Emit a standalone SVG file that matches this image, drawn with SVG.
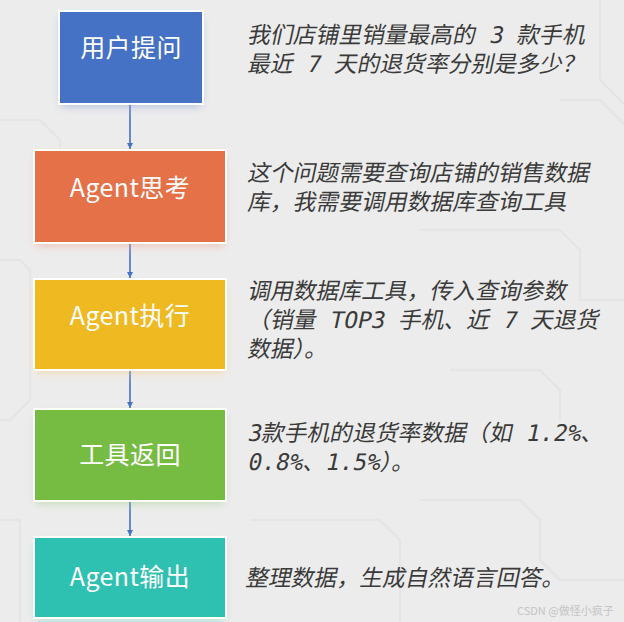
<svg xmlns="http://www.w3.org/2000/svg" width="624" height="622" viewBox="0 0 624 622">
<style>
.bg{fill:#ececec}
.circ{fill:none;stroke:#e5e5e5;stroke-width:2.5}
.box{stroke:#ffffff;stroke-width:2}
.lbl{font-family:"Noto Sans CJK SC","Noto Sans",sans-serif;font-size:25px;fill:#ffffff;text-anchor:middle;letter-spacing:0.4px}
.desc{font-family:"DejaVu Sans Mono","Noto Sans CJK SC",monospace;font-size:22.8px;fill:#3a3a3a}
.conn{stroke:#4472c4;stroke-width:1.6;fill:none}
.wm{font-family:"Noto Sans CJK SC","Liberation Sans",sans-serif;font-size:11px;fill:#c4c4c4}
</style>
<defs>
<marker id="ah" viewBox="0 0 10 10" refX="10" refY="5" markerWidth="6" markerHeight="6" markerUnits="userSpaceOnUse" orient="auto">
<path d="M0,0 L10,5 L0,10 z" fill="#4472c4"/>
</marker>
<filter id="sh" x="-20%" y="-20%" width="140%" height="150%">
<feGaussianBlur in="SourceGraphic" stdDeviation="5" result="b"/>
<feOffset in="b" dy="4" result="o"/>
<feComponentTransfer in="o" result="t"><feFuncA type="linear" slope="0.45"/></feComponentTransfer>
<feMerge><feMergeNode in="t"/><feMergeNode in="SourceGraphic"/></feMerge>
</filter>
</defs>
<rect class="bg" x="0" y="0" width="624" height="622"/>
<g id="background-pattern">
<path class="circ" d="M0,120 H40 L60,140 V150"/>
<path class="circ" d="M0,260 H20 L30,270 V400 L10,420 H0"/>
<path class="circ" d="M600,0 V80 L624,104"/>
<path class="circ" d="M560,100 H600 L624,124"/>
<path class="circ" d="M420,230 H560 L580,250 V300 H624"/>
<path class="circ" d="M450,370 H540 L560,390 V420"/>
<path class="circ" d="M420,500 H520 L540,520 V560 L560,580 H624"/>
<path class="circ" d="M250,520 H380 L400,540 V622"/>
<path class="circ" d="M0,520 H20 V622"/>
</g>
<g id="connectors">
<line class="conn" x1="130" y1="105" x2="130" y2="149" marker-end="url(#ah)"/>
<line class="conn" x1="130" y1="244" x2="130" y2="278" marker-end="url(#ah)"/>
<line class="conn" x1="130" y1="371" x2="130" y2="408" marker-end="url(#ah)"/>
<line class="conn" x1="130" y1="502" x2="130" y2="536" marker-end="url(#ah)"/>
</g>
<g id="node-user-question">
<rect class="box" x="59" y="11" width="144" height="93" fill="#4472c4" filter="url(#sh)"/>
<text class="lbl" x="131" y="57">用户提问</text>
</g>
<g id="desc-user-question">
<text class="desc" transform="translate(247,43) skewX(-12)">我们店铺里销量最高的 3 款手机</text>
<text class="desc" transform="translate(247,72) skewX(-12)">最近 7 天的退货率分别是多少？</text>
</g>
<g id="node-agent-think">
<rect class="box" x="34" y="150" width="192" height="93" fill="#e5714a" filter="url(#sh)"/>
<text class="lbl" x="130" y="197">Agent思考</text>
</g>
<g id="desc-agent-think">
<text class="desc" transform="translate(247,181) skewX(-12)">这个问题需要查询店铺的销售数据</text>
<text class="desc" transform="translate(247,210) skewX(-12)">库，我需要调用数据库查询工具</text>
</g>
<g id="node-agent-exec">
<rect class="box" x="34" y="279" width="192" height="91" fill="#efb921" filter="url(#sh)"/>
<text class="lbl" x="130" y="325">Agent执行</text>
</g>
<g id="desc-agent-exec">
<text class="desc" transform="translate(247,299) skewX(-12)">调用数据库工具，传入查询参数</text>
<text class="desc" transform="translate(247,328) skewX(-12)">（销量 TOP3 手机、近 7 天退货</text>
<text class="desc" transform="translate(247,357) skewX(-12)">数据）。</text>
</g>
<g id="node-tool-return">
<rect class="box" x="34" y="409" width="192" height="92" fill="#77bc42" filter="url(#sh)"/>
<text class="lbl" x="130" y="464">工具返回</text>
</g>
<g id="desc-tool-return">
<text class="desc" transform="translate(247,441) skewX(-12)">3款手机的退货率数据（如 1.2%、</text>
<text class="desc" transform="translate(247,470) skewX(-12)">0.8%、1.5%）。</text>
</g>
<g id="node-agent-output">
<rect class="box" x="34" y="537" width="192" height="81" fill="#2fc0b1" filter="url(#sh)"/>
<text class="lbl" x="130" y="586">Agent输出</text>
</g>
<g id="desc-agent-output">
<text class="desc" transform="translate(245,586) skewX(-12)">整理数据，生成自然语言回答。</text>
</g>
<text class="wm" x="517" y="615">CSDN @做怪小疯子</text>
</svg>
